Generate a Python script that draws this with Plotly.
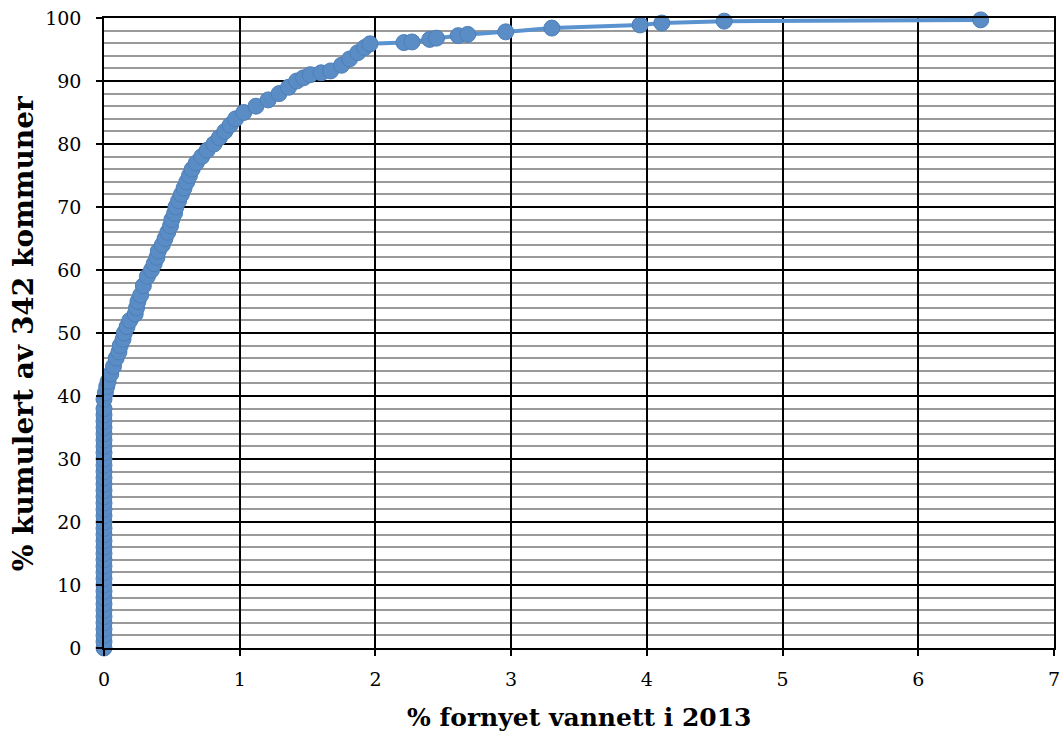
import plotly.graph_objects as go

# Share of water network renewed in 2013 (%), per municipality, sorted
renewed_pct = [
    0, 0, 0, 0, 0, 0, 0, 0, 0, 0,
    0, 0, 0, 0, 0, 0, 0, 0, 0, 0,
    0, 0, 0, 0, 0, 0, 0, 0, 0, 0,
    0, 0, 0, 0, 0, 0, 0, 0, 0, 0,
    0.01, 0.02, 0.03, 0.05, 0.07, 0.09, 0.11, 0.12, 0.14, 0.15,
    0.17, 0.19, 0.23, 0.24, 0.25, 0.27, 0.29, 0.32, 0.35, 0.37,
    0.39, 0.40, 0.43, 0.45, 0.47, 0.49, 0.50, 0.52, 0.53, 0.55,
    0.57, 0.59, 0.61, 0.63, 0.65, 0.68, 0.72, 0.76, 0.81, 0.85,
    0.89, 0.93, 0.97, 1.03, 1.12, 1.21, 1.29, 1.36, 1.42, 1.47,
    1.52, 1.60, 1.67, 1.75, 1.81, 1.87, 1.92, 1.96,
    2.21, 2.27, 2.40, 2.45, 2.61, 2.68, 2.96, 3.30, 3.95, 4.11, 4.57, 6.46,
]
# Cumulative share of the 342 municipalities (%)
cumulative_pct = [
    0, 1, 2, 3, 4, 5, 6, 7, 8, 9,
    10, 11, 12, 13, 14, 15, 16, 17, 18, 19,
    20, 21, 22, 23, 24, 25, 26, 27, 28, 29,
    30, 31, 32, 33, 34, 35, 36, 37, 38, 39.5,
    40.5, 41.5, 42.3, 43.5, 44.7, 46.0, 47.0, 48.0, 49.0, 50.0,
    51.0, 52.0, 53.0, 54.0, 55.0, 56.0, 57.5, 59.0, 60.0, 61.0,
    62.0, 63.0, 64.0, 65.0, 66.0, 67.0, 68.0, 69.0, 70.0, 71.0,
    72.0, 73.0, 74.0, 75.0, 76.0, 77.0, 78.0, 79.0, 80.0, 81.0,
    82.0, 83.0, 84.0, 85.0, 86.0, 87.0, 88.0, 89.0, 90.0, 90.5,
    91.0, 91.3, 91.6, 92.5, 93.5, 94.5, 95.3, 95.9,
    96.1, 96.2, 96.6, 96.8, 97.2, 97.4, 97.8, 98.4, 98.9, 99.2, 99.5, 99.7,
]

x_ticks = [0, 1, 2, 3, 4, 5, 6, 7]
y_ticks = [0, 10, 20, 30, 40, 50, 60, 70, 80, 90, 100]

x_title = "% fornyet vannett i 2013"
y_title = "% kumulert av 342 kommuner"

font_family = "DejaVu Serif"

fig = go.Figure()
fig.add_trace(go.Scatter(
    x=renewed_pct,
    y=cumulative_pct,
    mode="lines+markers",
    line=dict(color="#5B93D0", width=4),
    marker=dict(size=16, color="#5A8CC6", line=dict(color="#4F7FB6", width=1)),
    cliponaxis=False,
    showlegend=False,
    hoverinfo="skip",
))

axis_common = dict(
    showgrid=True,
    gridcolor="black",
    gridwidth=1.5,
    showline=True,
    linecolor="black",
    linewidth=1.5,
    mirror=True,
    ticks="outside",
    ticklen=6,
    tickcolor="black",
    tickwidth=1.5,
    zeroline=False,
    automargin=False,
    tickfont=dict(size=19, family=font_family),
)

fig.update_layout(
    width=1063,
    height=731,
    margin=dict(l=104, r=9, t=18, b=83),
    paper_bgcolor="white",
    plot_bgcolor="white",
    font=dict(family=font_family, color="black", size=19),
    xaxis=dict(
        range=[0, 7],
        tickvals=x_ticks,
        ticktext=[str(v) for v in x_ticks],
        ticklabelstandoff=7,
        **axis_common,
    ),
    yaxis=dict(
        range=[0, 100],
        tickvals=y_ticks,
        ticktext=[str(v) for v in y_ticks],
        ticklabelstandoff=11,
        minor=dict(dtick=2, showgrid=True, gridcolor="#9a9a9a", gridwidth=1.5, ticks=""),
        **axis_common,
    ),
    annotations=[
        dict(
            text="<b>" + x_title + "</b>",
            xref="paper", yref="paper", x=0.5, y=-0.11,
            xanchor="center", yanchor="middle", showarrow=False,
            font=dict(size=25, family=font_family, color="black"),
        ),
        dict(
            text="<b>" + y_title + "</b>",
            xref="paper", yref="paper", x=-0.085, y=0.5,
            xanchor="center", yanchor="middle", showarrow=False, textangle=-90,
            font=dict(size=28, family=font_family, color="black"),
        ),
    ],
)

fig.write_html(
    "out.html",
    config={"displayModeBar": False},
    post_script="document.body.style.margin='0px';",
)
